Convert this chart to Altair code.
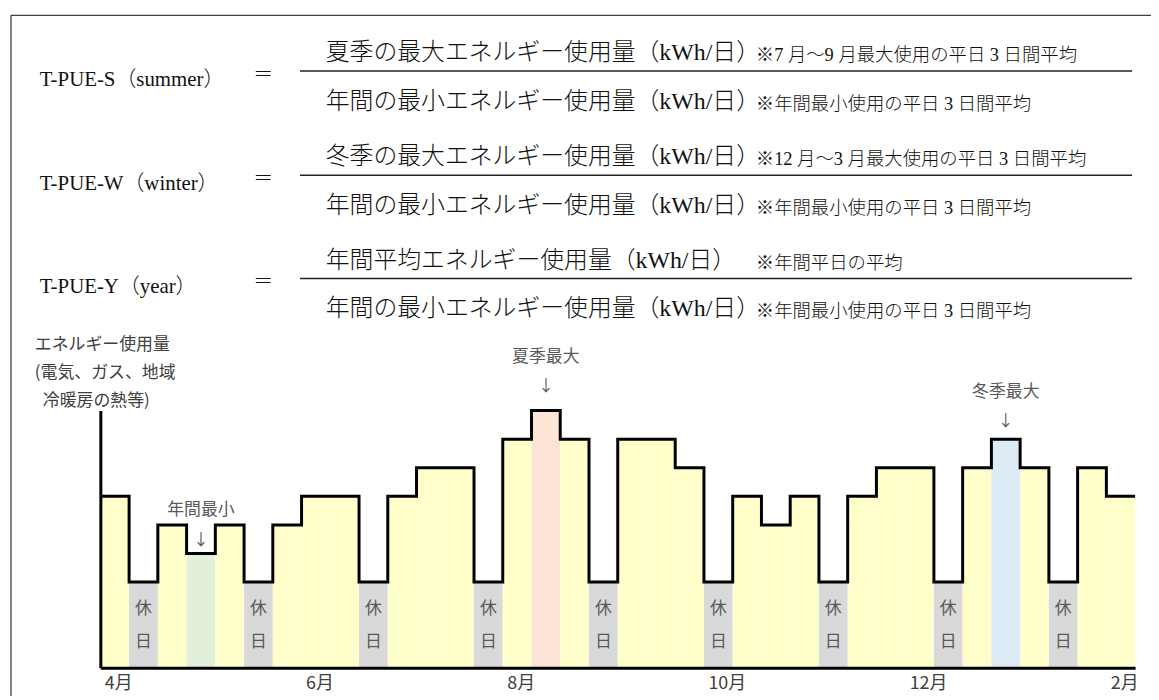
import altair as alt
import pandas as pd

# ---------------- data ----------------
levels = [6, 3, 5, 4, 5, 3, 5, 6, 6, 3, 6, 7, 7, 3, 8, 9, 8, 3,
          8, 8, 7, 3, 6, 5, 6, 3, 6, 7, 7, 3, 7, 8, 7, 3, 7, 6]
day_types = ["平日", "休日", "平日", "年間最小", "平日", "休日", "平日", "平日", "平日",
             "休日", "平日", "平日", "平日", "休日", "平日", "夏季最大", "平日", "休日",
             "平日", "平日", "平日", "休日", "平日", "平日", "平日", "休日", "平日",
             "平日", "平日", "休日", "平日", "冬季最大", "平日", "休日", "平日", "平日"]
type_names = ["平日", "休日", "年間最小", "夏季最大", "冬季最大"]
type_colors = ["#FFFFCC", "#D9D9D9", "#E2EFDA", "#FCE4D6", "#DDEBF7"]

month_labels = ["4月", "6月", "8月", "10月", "12月", "2月"]
month_pos = [0, 7, 14, 21, 28, 35]

peak_labels = ["年間最小", "夏季最大", "冬季最大"]

ytitle_lines = ["エネルギー使用量", "(電気、ガス、地域", "冷暖房の熱等)"]

pue_labels = ["T-PUE-S（summer）", "T-PUE-W（winter）", "T-PUE-Y（year）"]
numerators = ["夏季の最大エネルギー使用量（kWh/日）",
              "冬季の最大エネルギー使用量（kWh/日）",
              "年間平均エネルギー使用量（kWh/日）"]
denominators = ["年間の最小エネルギー使用量（kWh/日）"] * 3
num_notes = ["※7 月～9 月最大使用の平日 3 日間平均",
             "※12 月～3 月最大使用の平日 3 日間平均",
             "※年間平日の平均"]
den_notes = ["※年間最小使用の平日 3 日間平均"] * 3

# ---------------- layout (page pixels -> scale units) ----------------
N = len(levels)
PLOT_L, PLOT_T, PLOT_W, PLOT_H, YMAX = 101, 411, 1042, 259, 9
PLOT_B = PLOT_T + PLOT_H
TOTAL_W, TOTAL_H = 1151, 688


def X(px):
    return (px - PLOT_L) * N / PLOT_W


def Y(py):
    return (PLOT_B - py) * YMAX / PLOT_H


SY = PLOT_H / YMAX
CJK = "Noto Sans CJK JP"
SERIF = "Liberation Serif, Noto Sans CJK JP"

xs = alt.Scale(domain=[0, N], nice=False, zero=False)
ys = alt.Scale(domain=[0, YMAX], nice=False, zero=False)

label_expr = ("[" + ",".join(f"'{m}'" for m in month_labels) + "][indexof(["
              + ",".join(str(p) for p in month_pos) + "], datum.value)]")

AX = alt.Axis(
    values=month_pos, labelExpr=label_expr, title=None, ticks=False, tickSize=0,
    grid=False, domainColor="black", domainWidth=3, labelAlign="left",
    labelBaseline="middle", labelPadding=16, labelOffset=4, labelFont=CJK,
    labelFontSize=18, labelColor="#404040", labelFlush=False, labelOverlap=False,
    labelBound=False, zindex=1)
AY = alt.Axis(labels=False, ticks=False, tickSize=0, title=None, grid=False,
              domainColor="black", domainWidth=3, zindex=1)


def ex(f="x"):
    return alt.X(f"{f}:Q", scale=xs, axis=AX)


def ey(f="y"):
    return alt.Y(f"{f}:Q", scale=ys, axis=AY)


# segments
seg = pd.DataFrame({"x": list(range(N)), "x2": list(range(1, N + 1)),
                    "base": [0] * N, "y": levels, "type": day_types})
rects = alt.Chart(seg).mark_rect(strokeWidth=0).encode(
    x=ex(), x2="x2:Q", y=ey(), y2="base:Q",
    color=alt.Color("type:N", scale=alt.Scale(domain=type_names, range=type_colors),
                    legend=None),
)

line_df = pd.DataFrame({"x": list(range(N + 1)), "y": levels + [levels[-1]]})
step = alt.Chart(line_df).mark_line(
    interpolate="step-after", color="black", strokeWidth=3, strokeJoin="miter"
).encode(x=ex(), y=ey())

# holiday labels
hol_idx = [k for k, t in enumerate(day_types) if t == "休日"]
hol_rows = []
for k in hol_idx:
    hol_rows.append({"x": k + 0.5, "y": Y(611), "t": "休"})
    hol_rows.append({"x": k + 0.5, "y": Y(644), "t": "日"})
hol_text = alt.Chart(pd.DataFrame(hol_rows)).mark_text(
    font=CJK, fontSize=17, color="#595959", baseline="middle", align="center"
).encode(x=ex(), y=ey(), text="t:N")

# peak annotations
text_off = {"年間最小": 44, "夏季最大": 54, "冬季最大": 47}
arrow_off = {"年間最小": 14, "夏季最大": 25, "冬季最大": 18}
ann_rows, arr_rows = [], []
for name in peak_labels:
    k = day_types.index(name)
    ann_rows.append({"x": k + 0.5, "y": levels[k] + text_off[name] / SY, "t": name})
    arr_rows.append({"x": k + 0.5, "y": levels[k] + arrow_off[name] / SY, "t": "↓"})
ann_text = alt.Chart(pd.DataFrame(ann_rows)).mark_text(
    font=CJK, fontSize=17, color="#595959", baseline="middle", align="center"
).encode(x=ex(), y=ey(), text="t:N")
arr_text = alt.Chart(pd.DataFrame(arr_rows)).mark_text(
    font=CJK, fontSize=16, color="#595959", baseline="middle", align="center"
).encode(x=ex(), y=ey(), text="t:N")

# y title (three lines)
yt_df = pd.DataFrame({"x": [X(35), X(35), X(43)],
                      "y": [Y(345), Y(373.5), Y(401.5)], "t": ytitle_lines})
yt_text = alt.Chart(yt_df).mark_text(
    font=CJK, fontSize=17, color="#404040", baseline="middle", align="left"
).encode(x=ex(), y=ey(), text="t:N")

# formula block
line_y = [69, 174, 278]
lab_df = pd.DataFrame({"x": [X(40)] * 3, "y": [Y(v + 15) for v in line_y], "t": pue_labels})
lab_text = alt.Chart(lab_df).mark_text(
    font=SERIF, fontSize=21, color="#111111", baseline="alphabetic", align="left",
    fontWeight=300
).encode(x=ex(), y=ey(), text="t:N")

eq_df = pd.DataFrame({"x": [X(265)] * 3, "y": [Y(v + 4) for v in line_y], "t": ["＝"] * 3})
eq_text = alt.Chart(eq_df).mark_text(
    font=CJK, fontSize=20, color="#111111", baseline="middle", align="center",
    fontWeight=300
).encode(x=ex(), y=ey(), text="t:N")

main_df = pd.DataFrame({
    "x": [X(328)] * 6,
    "y": [Y(v - 18) for v in line_y] + [Y(v + 31) for v in line_y],
    "t": numerators + denominators})
main_text = alt.Chart(main_df).mark_text(
    font=SERIF, fontSize=24, color="#111111", baseline="middle", align="left",
    fontWeight=300
).encode(x=ex(), y=ey(), text="t:N")

note_df = pd.DataFrame({
    "x": [X(761)] * 6,
    "y": [Y(v - 16) for v in line_y] + [Y(v + 33) for v in line_y],
    "t": num_notes + den_notes})
note_text = alt.Chart(note_df).mark_text(
    font=SERIF, fontSize=18.5, color="#111111", baseline="middle", align="left",
    fontWeight=300
).encode(x=ex(), y=ey(), text="t:N")

frac_df = pd.DataFrame({"x": [X(302)] * 3, "x2": [X(1140)] * 3,
                        "y": [Y(v) for v in line_y]})
frac = alt.Chart(frac_df).mark_rule(color="#222222", strokeWidth=1.6).encode(
    x=ex(), x2="x2:Q", y=ey())

frame_df = pd.DataFrame({"x": [X(11), X(11)], "x2": [X(1160), X(11)],
                         "y": [Y(13), Y(13)], "y2": [Y(13), Y(705)]})
frame = alt.Chart(frame_df).mark_rule(color="#404040", strokeWidth=1.3).encode(
    x=ex(), x2="x2:Q", y=ey(), y2="y2:Q")

chart = alt.layer(
    rects, step, hol_text, ann_text, arr_text, yt_text,
    frame, frac, lab_text, eq_text, main_text, note_text
).properties(
    width=PLOT_W, height=PLOT_H,
    autosize=alt.AutoSizeParams(type="none"),
    padding={"left": PLOT_L - 8, "top": PLOT_T - 8,
             "right": TOTAL_W - (PLOT_L - 8) - PLOT_W,
             "bottom": TOTAL_H - (PLOT_T - 8) - PLOT_H},
    background="white",
).configure_view(stroke=None)

chart.save("out.html", embed_options={"renderer": "svg", "actions": False})
